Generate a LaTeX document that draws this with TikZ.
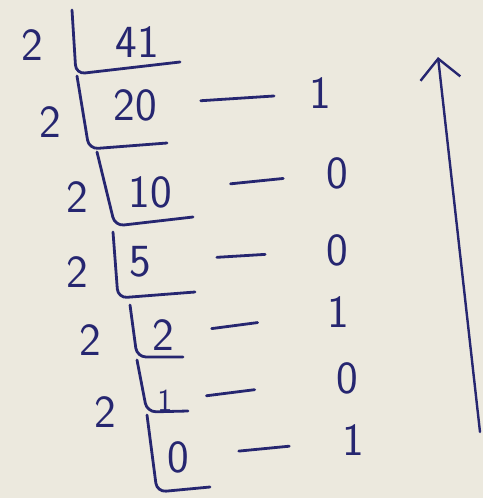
\documentclass[tikz,border=0pt]{standalone}
\usepackage{xcolor}
\usepackage{tikz}
\usetikzlibrary{arrows.meta}
\definecolor{ink}{RGB}{38,38,112}
\definecolor{paper}{RGB}{236,233,222}

\begin{document}
\begin{tikzpicture}[
    x=1pt,y=-1pt,
    every node/.style={font=\fontsize{46}{46}\sffamily,text=ink,inner sep=0pt},
    small/.style={font=\fontsize{32}{32}\sffamily},
    bar/.style={draw=ink,line width=2.8pt,line cap=round,line join=round,rounded corners=9pt},
    dashline/.style={draw=ink,line width=2.8pt,line cap=round},
    arrow/.style={draw=ink,line width=2.4pt,line cap=round,
                  -{Straight Barb[length=20pt,width=40pt,line width=2.4pt]}},
]
    \fill[paper] (0,0) rectangle (483,498);
    \useasboundingbox (0,0) rectangle (483,498);

    % divisors
    \node (d1) at (32,45)   {2};
    \node (d2) at (50,122)  {2};
    \node (d3) at (77,197)  {2};
    \node (d4) at (77,272)  {2};
    \node (d5) at (90,340)  {2};
    \node (d6) at (105,412) {2};

    % quotients
    \node (q41) at (137,42)  {41};
    \node (q20) at (135,105) {20};
    \node (q10) at (150,192) {10};
    \node (q5)  at (140,262) {5};
    \node (q2)  at (163,335) {2};
    \node[small] (q1) at (165,401) {1};
    \node (q0)  at (178,457) {0};

    % remainders
    \node (r1) at (320,93)  {1};
    \node (r2) at (337,173) {0};
    \node (r3) at (337,250) {0};
    \node (r4) at (338,312) {1};
    \node (r5) at (347,378) {0};
    \node (r6) at (353,440) {1};

    % division brackets
    \draw[bar] (72,10)  -- (76,74)  -- (180,62);
    \draw[bar] (77,76)  -- (89,149) -- (167,143);
    \draw[bar] (97,152) -- (115,226) -- (193,217);
    \draw[bar] (113,232) -- (118,298) -- (195,292);
    \draw[bar] (130,305) -- (137,357) -- (183,357);
    \draw[bar] (137,360) -- (147,412) -- (188,411);
    \draw[bar] (147,415) -- (157,492) -- (210,487);

    % remainder dashes
    \draw[dashline,shorten <=44pt,shorten >=35pt] (q20) -- (r1);
    \draw[dashline,shorten <=59pt,shorten >=43pt] (q10) -- (r2);
    \draw[dashline,shorten <=66pt,shorten >=61pt] (q5)  -- (r3);
    \draw[dashline,shorten <=38pt,shorten >=70pt] (q2)  -- (r4);
    \draw[dashline,shorten <=34pt,shorten >=82pt] (q1)  -- (r5);
    \draw[dashline,shorten <=50pt,shorten >=53pt] (q0)  -- (r6);

    % reading direction
    \coordinate (low) at (480,432);
    \coordinate (top) at (438,57);
    \draw[arrow] (low) -- (top);
\end{tikzpicture}
\end{document}
